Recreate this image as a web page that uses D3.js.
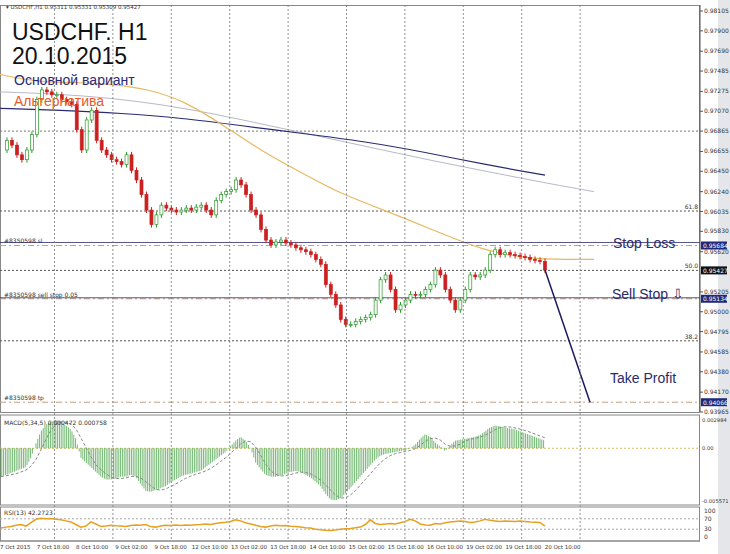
<!DOCTYPE html>
<html><head><meta charset="utf-8">
<script src="https://cdn.jsdelivr.net/npm/d3@7"></script>
<style>body{margin:0;background:#fff;}svg{display:block;font-family:Tahoma,"DejaVu Sans",sans-serif;}</style>
</head><body><svg id="c" width="730" height="554"></svg>
<script>
const closes=[0.9667,0.9677,0.9672,0.9662,0.9657,0.9667,0.9683,0.9719,0.9729,0.9727,0.9724,0.9724,0.9719,0.9717,0.9714,0.9688,0.9667,0.9698,0.9708,0.9677,0.9667,0.9662,0.9657,0.9655,0.9652,0.9662,0.9646,0.9636,0.9621,0.9605,0.9590,0.9600,0.9610,0.9607,0.9605,0.9603,0.9605,0.9607,0.9605,0.9608,0.9610,0.9605,0.9600,0.9615,0.9621,0.9624,0.9626,0.9636,0.9631,0.9621,0.9605,0.9600,0.9585,0.9574,0.9569,0.9572,0.9574,0.9571,0.9569,0.9566,0.9564,0.9562,0.9559,0.9554,0.9549,0.9528,0.9518,0.9507,0.9492,0.9487,0.9487,0.9490,0.9492,0.9494,0.9497,0.9512,0.9533,0.9538,0.9523,0.9502,0.9507,0.9512,0.9518,0.9517,0.9518,0.9523,0.9528,0.9543,0.9538,0.9523,0.9512,0.9502,0.9512,0.9523,0.9538,0.9536,0.9538,0.9543,0.9559,0.9564,0.9559,0.9561,0.9559,0.9558,0.9557,0.9556,0.9554,0.9553,0.9552,0.9543];
const maOrange=[0.9745,0.9737,0.9737,0.9735,0.9730,0.9717,0.9693,0.9667,0.9646,0.9625,0.9610,0.9595,0.9579,0.9564,0.9556,0.9554,0.9554];
const maGrey=[0.9727,0.9725,0.9721,0.9714,0.9704,0.9692,0.9680,0.9668,0.9656,0.9645,0.9634,0.9624];
const maNavy=[0.9710,0.9708,0.9705,0.9700,0.9692,0.9684,0.9676,0.9665,0.9652,0.9641];
const macd=[-0.0030,-0.0028,-0.0026,-0.0024,-0.0022,-0.0020,-0.0010,0.0005,0.0018,0.0025,0.0028,0.0030,0.0028,0.0024,0.0020,0.0010,-0.0010,-0.0015,-0.0020,-0.0025,-0.0030,-0.0033,-0.0033,-0.0032,-0.0030,-0.0030,-0.0028,-0.0030,-0.0038,-0.0045,-0.0046,-0.0044,-0.0042,-0.0040,-0.0036,-0.0033,-0.0030,-0.0028,-0.0027,-0.0025,-0.0024,-0.0020,-0.0016,-0.0012,-0.0008,-0.0004,0.0002,0.0008,0.0012,0.0008,0.0000,-0.0015,-0.0022,-0.0028,-0.0030,-0.0030,-0.0029,-0.0027,-0.0025,-0.0024,-0.0025,-0.0028,-0.0031,-0.0035,-0.0040,-0.0048,-0.0054,-0.0055,-0.0053,-0.0048,-0.0042,-0.0036,-0.0030,-0.0024,-0.0018,-0.0012,-0.0008,-0.0006,-0.0005,-0.0004,-0.0003,-0.0002,0.0000,0.0004,0.0010,0.0015,0.0012,0.0006,0.0002,-0.0003,0.0003,0.0008,0.0009,0.0010,0.0011,0.0012,0.0014,0.0018,0.0022,0.0024,0.0023,0.0022,0.0021,0.0020,0.0018,0.0016,0.0014,0.0012,0.0010,0.0008];
const rsi=[35,38,40,45,48,42,55,68,72,70,71,68,66,62,58,48,38,42,58,50,40,42,45,43,42,40,44,46,45,48,40,38,42,45,44,46,44,46,45,47,48,50,48,52,55,57,60,66,62,55,50,45,40,38,42,45,43,44,41,40,38,36,35,30,28,26,25,27,30,32,33,36,38,48,66,52,48,50,52,50,55,60,68,62,50,46,45,52,50,55,58,60,62,60,56,58,62,68,64,62,60,62,61,60,62,60,58,57,56,42];
const priceTicks=[0.98105,0.97900,0.97690,0.97485,0.97275,0.97070,0.96865,0.96655,0.96450,0.96240,0.96035,0.95830,0.95620,0.95205,0.95000,0.94795,0.94585,0.94380,0.94170,0.93965];
const dateLabels=["7 Oct 2015","7 Oct 18:00","8 Oct 10:00","9 Oct 02:00","9 Oct 18:00","12 Oct 10:00","13 Oct 02:00","13 Oct 18:00","14 Oct 10:00","15 Oct 02:00","15 Oct 18:00","16 Oct 10:00","19 Oct 02:00","19 Oct 18:00","20 Oct 10:00"];
const levels={sl:0.95684,cur:0.95427,sell:0.95134,tp:0.94066};
const fibo=[{v:0.96040,l:"61.8"},{v:0.95427,l:"50.0"},{v:0.94700,l:"38.2"}];

const svg=d3.select("#c");
const W=700, pTop=5, pBot=412;
svg.append("rect").attr("x",718).attr("y",0).attr("width",12).attr("height",554).attr("fill","#e4e6ea");
const y=d3.scaleLinear().domain([0.93965,0.98105]).range([412,11]);
const x=d3.scaleLinear().domain([0,closes.length-1]).range([2,545]);
const g=svg.append("g");
g.append("rect").attr("x",0.5).attr("y",pTop+0.5).attr("width",W-1).attr("height",pBot-pTop).attr("fill","none").attr("stroke","#888");
const vg=d3.range(10).map(i=>54.5+i*58.4);
vg.forEach(v=>svg.append("line").attr("x1",v).attr("x2",v).attr("y1",pTop).attr("y2",541).attr("stroke","#777").attr("stroke-dasharray","2,2").attr("stroke-width",0.8));
[0.96865].forEach(v=>g.append("line").attr("x1",0).attr("x2",W).attr("y1",y(v)).attr("y2",y(v)).attr("stroke","#777").attr("stroke-dasharray","2,2"));
fibo.forEach(f=>{g.append("line").attr("x1",0).attr("x2",W).attr("y1",y(f.v)).attr("y2",y(f.v)).attr("stroke","#555").attr("stroke-dasharray","2,2");
 g.append("text").attr("x",698).attr("y",y(f.v)-2).attr("text-anchor","end").attr("font-size",6).attr("fill","#333").text(f.l);});
const mk=(arr,end)=>d3.line().x((d,i)=>i*end/(arr.length-1)).y(d=>y(d)).curve(d3.curveBasis)(arr);
g.append("path").attr("d",mk(maGrey,594)).attr("fill","none").attr("stroke","#b8b8c8").attr("stroke-width",1);
g.append("path").attr("d",mk(maNavy,545)).attr("fill","none").attr("stroke","#2a2a70").attr("stroke-width",1.2);
g.append("path").attr("d",mk(maOrange,594)).attr("fill","none").attr("stroke","#e8b860").attr("stroke-width",1.2);
[["sl","#8350598 sl"],["sell","#8350598 sell stop 0.05"],["tp","#8350598 tp"]].forEach(([k,t])=>{
 g.append("line").attr("x1",0).attr("x2",W).attr("y1",y(levels[k])).attr("y2",y(levels[k])).attr("stroke","#c0a080").attr("stroke-dasharray","6,3,2,3");
 g.append("text").attr("x",4).attr("y",y(levels[k])-2).attr("font-size",6).attr("fill","#333").text(t);});
g.append("line").attr("x1",0).attr("x2",W).attr("y1",y(levels.sl)-3).attr("y2",y(levels.sl)-3).attr("stroke","#2a2a70").attr("stroke-width",0.8);
g.append("line").attr("x1",0).attr("x2",W).attr("y1",y(levels.sell)-1).attr("y2",y(levels.sell)-1).attr("stroke","#2a2a70").attr("stroke-width",0.8);
const bw=3;
closes.forEach((c,i)=>{ if(i===0) return; const o=closes[i-1]; const up=c>=o; const col=up?"#2a9a2a":"#cc2020";
 const cx=x(i);
 g.append("line").attr("x1",cx).attr("x2",cx).attr("y1",Math.min(y(o),y(c))-3).attr("y2",Math.max(y(o),y(c))+3).attr("stroke",col);
 g.append("rect").attr("x",cx-bw/2).attr("y",Math.min(y(o),y(c))).attr("width",bw).attr("height",Math.max(1,Math.abs(y(o)-y(c)))).attr("fill",up?"#fff":col).attr("stroke",col).attr("stroke-width",0.7);});
g.append("line").attr("x1",x(closes.length-1)).attr("y1",y(closes[closes.length-1])).attr("x2",590).attr("y2",y(levels.tp)).attr("stroke","#1a1a60").attr("stroke-width",1.5);
g.append("line").attr("x1",W).attr("x2",W).attr("y1",pTop).attr("y2",pBot).attr("stroke","#555");
priceTicks.forEach(p=>{g.append("line").attr("x1",W).attr("x2",W+3).attr("y1",y(p)).attr("y2",y(p)).attr("stroke","#555");
 g.append("text").attr("x",704).attr("y",y(p)+2).attr("font-size",6).attr("fill","#333").text(p.toFixed(5));});
[[levels.sl,"#1f2a78"],[levels.cur,"#111"],[levels.sell,"#1f2a78"],[levels.tp,"#1f2a78"]].forEach(([v,c])=>{
 g.append("rect").attr("x",701).attr("y",y(v)-4).attr("width",26).attr("height",8).attr("fill",c);
 g.append("text").attr("x",703).attr("y",y(v)+2.5).attr("font-size",6).attr("fill","#fff").text(v.toFixed(5));});
g.append("text").attr("x",6).attr("y",9).attr("font-size",5.5).attr("fill","#333").text("▾ USDCHF,H1  0.95311 0.95331 0.95309 0.95427");
const T=(t,xx,yy,s,c)=>g.append("text").attr("x",xx).attr("y",yy).attr("font-size",s).attr("fill",c).attr("font-family","Arial,'Liberation Sans',sans-serif").text(t);
T("USDCHF. H1",12,40,23,"#111");T("20.10.2015",12,64,23,"#111");
T("Основной вариант",14,85,14,"#2a2a7a");T("Альтернатива",14,106,14,"#e85a2a");
T("Stop Loss",613,248,14,"#2a2a6a");T("Sell Stop ⇩",612,299,14,"#2a2a6a");T("Take Profit",610,383,14,"#2a2a6a");
const m0=415,m1=505;
svg.append("rect").attr("x",0.5).attr("y",m0).attr("width",W-1).attr("height",m1-m0).attr("fill","none").attr("stroke","#888");
const ym=d3.scaleLinear().domain([-0.005571,0.002984]).range([501,420]);
svg.append("line").attr("x1",0).attr("x2",W).attr("y1",ym(0)).attr("y2",ym(0)).attr("stroke","#d8c060").attr("stroke-dasharray","2,2");
const xm=d3.scaleLinear().domain([0,macd.length-1]).range([1,545]);
d3.range(0,545,1.8).forEach(px=>{const i=xm.invert(px);const a=Math.max(0,Math.floor(i)),b=Math.min(macd.length-1,a+1);const v=macd[a]+(macd[b]-macd[a])*(i-a);
 svg.append("line").attr("x1",px).attr("x2",px).attr("y1",ym(0)).attr("y2",ym(v)).attr("stroke","#3a9a3a").attr("stroke-width",0.7);});
const sig=macd.map((d,i)=>d3.mean(macd.slice(Math.max(0,i-3),i+1)));
svg.append("path").attr("d",d3.line().x((d,i)=>xm(i)).y(d=>ym(d))(sig)).attr("fill","none").attr("stroke","#888").attr("stroke-dasharray","3,2");
svg.append("text").attr("x",4).attr("y",425).attr("font-size",6).attr("fill","#333").text("MACD(5,34,5) 0.000472 0.000758");
[[0.002984,"0.002984"],[0,"0.00"],[-0.005571,"-0.005571"]].forEach(([v,t])=>svg.append("text").attr("x",702).attr("y",ym(v)+2).attr("font-size",5.2).attr("fill","#333").text(t));
const r0=507,r1=541;
svg.append("rect").attr("x",0.5).attr("y",r0).attr("width",W-1).attr("height",r1-r0).attr("fill","none").attr("stroke","#888");
const yr=d3.scaleLinear().domain([0,100]).range([537,511]);
[30,70].forEach(v=>svg.append("line").attr("x1",0).attr("x2",W).attr("y1",yr(v)).attr("y2",yr(v)).attr("stroke","#aaa").attr("stroke-dasharray","2,2"));
svg.append("path").attr("d",d3.line().x((d,i)=>xm(i)).y(d=>yr(d))(rsi)).attr("fill","none").attr("stroke","#e8a020").attr("stroke-width",1.5);
svg.append("text").attr("x",4).attr("y",515).attr("font-size",6).attr("fill","#333").text("RSI(13) 42.2723");
[100,70,30,0].forEach(v=>svg.append("text").attr("x",704).attr("y",yr(v)+2).attr("font-size",6).attr("fill","#333").text(v));
dateLabels.forEach((t,i)=>svg.append("text").attr("x",i===0?0:53+(i-1)*39.2).attr("y",549).attr("text-anchor",i===0?"start":"middle").attr("font-size",5.5).attr("fill","#333").text(t));
svg.append("line").attr("x1",0).attr("x2",W).attr("y1",541).attr("y2",541).attr("stroke","#888");
</script></body></html>
